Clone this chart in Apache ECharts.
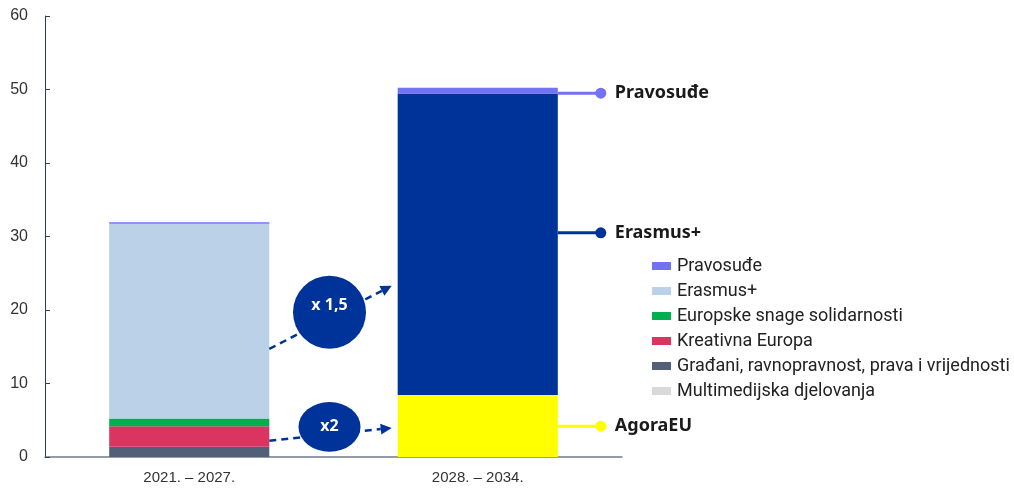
<!DOCTYPE html>
<html><head><meta charset="utf-8">
<script src="https://cdn.jsdelivr.net/npm/echarts@6/dist/echarts.min.js"></script>
<style>html,body{margin:0;padding:0;background:#fff}#c{width:1014px;height:490px}</style>
</head><body><div id="c"></div>
<script>
const categories = ['2021. – 2027.', '2028. – 2034.'];
const multimedija = [0, 0];
const gradjani = [1.4, 0];
const kreativna = [2.8, 0];
const solidarnost = [1.05, 0];
const agoraEU = [0, 8.45];
const erasmus = [26.5, 41.0];
const pravosudje = [0.2, 0.8];
const yTicks = [0, 10, 20, 30, 40, 50, 60];
const calloutNames = ['Pravosuđe', 'Erasmus+', 'AgoraEU'];
const calloutValues = [49.5, 30.5, 4.2];
const factorLabels = ['x 1,5', 'x2'];
const factorCenters = [19.7, 4.1];
const arrowFrom = [14.7, 2.2];
const arrowTo = [23.3, 3.95];

const C = {
  prav: '#7272f2', erLight: '#bad1e8', erDark: '#003399', esc: '#00b050',
  kre: '#dc3461', cerv: '#525f78', mm: '#d9d9d9', agora: '#ffff00'
};
const calloutColors = [C.prav, C.erDark, '#ffff00'];

const chart = echarts.init(document.getElementById('c'));
const bw = '55.5%';
function s(name, data, color, extra) {
  return Object.assign({ name, type: 'bar', stack: 't', data, barWidth: bw,
    itemStyle: { color }, emphasis: { disabled: true } }, extra || {});
}
chart.setOption({
  animation: false,
  grid: { left: 45, right: 392, top: 16, bottom: 33 },
  legend: {
    orient: 'vertical', left: 647, top: 252, itemWidth: 19, itemHeight: 8, itemGap: 7,
    icon: 'rect',
    data: ['Pravosuđe', 'Erasmus+', 'Europske snage solidarnosti', 'Kreativna Europa',
      'Građani, ravnopravnost, prava i vrijednosti', 'Multimedijska djelovanja'],
    textStyle: { fontFamily: 'Roboto', fontSize: 18, color: '#222', lineHeight: 18, padding: [0, 0, 0, 1] }
  },
  xAxis: {
    type: 'category', data: categories,
    axisLine: { lineStyle: { color: '#6f7b8b', width: 1.5 } },
    axisTick: { show: false },
    axisLabel: { fontFamily: 'Liberation Sans', fontSize: 15, color: '#333', margin: 13 }
  },
  yAxis: {
    type: 'value', min: 0, max: 60, interval: 10,
    axisLine: { show: true, lineStyle: { color: '#2e3f55', width: 1 } },
    axisTick: { show: true, inside: true, length: 5, lineStyle: { color: '#2e3f55' } },
    splitLine: { show: false },
    axisLabel: { fontFamily: 'Liberation Sans', fontSize: 16, color: '#333', margin: 17,
      formatter: v => yTicks.includes(v) ? String(v) : '' }
  },
  series: [
    s('Multimedijska djelovanja', multimedija, C.mm),
    s('Građani, ravnopravnost, prava i vrijednosti', gradjani, C.cerv),
    s('Kreativna Europa', kreativna, C.kre),
    s('Europske snage solidarnosti', solidarnost, C.esc),
    s('AgoraEU', agoraEU, C.agora),
    s('Erasmus+', erasmus.map((v, i) => i === 1 ? { value: v, itemStyle: { color: C.erDark } } : v), C.erLight),
    s('Pravosuđe', pravosudje, C.prav)
  ]
});

function px(ci, v) { return chart.convertToPixel({ xAxisIndex: 0, yAxisIndex: 0 }, [categories[ci], v]); }
const c0 = px(0, 0), c1 = px(1, 0);
const band = c1[0] - c0[0];
const half = band * 0.555 / 2;
const g = [];
calloutNames.forEach((n, i) => {
  const p = px(1, calloutValues[i]);
  const x0 = p[0] + half, x1 = x0 + 43;
  g.push({ type: 'line', shape: { x1: x0, y1: p[1], x2: x1, y2: p[1] }, style: { stroke: calloutColors[i], lineWidth: 3 }, z: 10 });
  g.push({ type: 'circle', shape: { cx: x1, cy: p[1], r: 5.5 }, style: { fill: calloutColors[i] }, z: 10 });
  g.push({ type: 'text', x: x1 + 14, y: p[1], style: { text: n, fill: '#1a1a1a', font: 'bold 18px "Noto Sans"', verticalAlign: 'middle' }, z: 10 });
});
const gapL = c0[0] + half, gapR = c1[0] - half;
factorLabels.forEach((t, i) => {
  const a = px(0, arrowFrom[i]), b = px(1, arrowTo[i]);
  const xs = gapL, xe = gapR - 6;
  const ang = Math.atan2(b[1] - a[1], xe - xs);
  const L = 11, W = 5.5;
  const bx = xe - L * Math.cos(ang), by = b[1] - L * Math.sin(ang);
  g.push({ type: 'line', shape: { x1: xs, y1: a[1], x2: bx, y2: by }, style: { stroke: C.erDark, lineWidth: 2.5, lineDash: [7, 5] }, z: 5 });
  g.push({ type: 'polygon', shape: { points: [[xe, b[1]], [bx - W * Math.sin(ang), by + W * Math.cos(ang)], [bx + W * Math.sin(ang), by - W * Math.cos(ang)]] }, style: { fill: C.erDark }, z: 5 });
  const cc = px(0, factorCenters[i]);
  const cx = (gapL + gapR) / 2 - 4;
  const r = i === 0 ? 36.5 : 31;
  g.push({ type: 'circle', x: cx, y: cc[1], scaleY: i === 0 ? 1 : 0.8, shape: { cx: 0, cy: 0, r }, style: { fill: C.erDark }, z: 6 });
  g.push({ type: 'text', x: cx, y: cc[1] - (i === 0 ? 7 : 0), style: { text: t, fill: '#fff', font: 'bold 16px "Noto Sans"', align: 'center', verticalAlign: 'middle' }, z: 7 });
});
chart.setOption({ graphic: g });
</script></body></html>
